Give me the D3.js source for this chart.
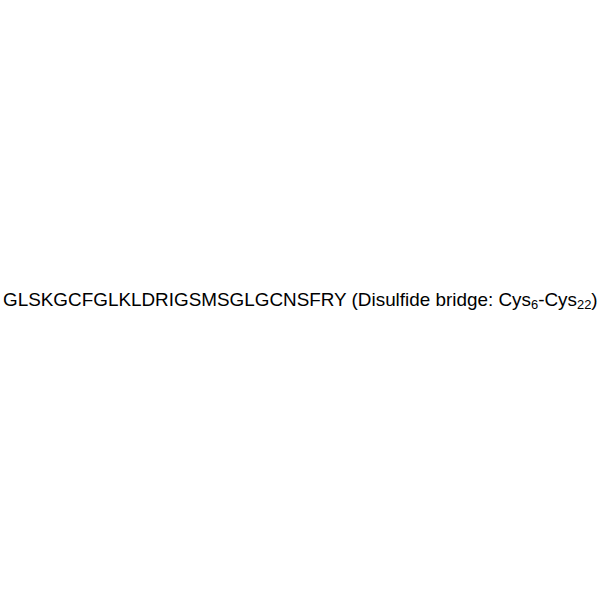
<!DOCTYPE html>
<html><head><meta charset="utf-8">
<script src="https://cdn.jsdelivr.net/npm/d3@7"></script>
<style>html,body{margin:0;padding:0;background:#fff;}</style>
</head><body>
<script>
const sequence = "GLSKGCFGLKLDRIGSMSGLGCNSFRY";
const bridgeLabel = "Disulfide bridge: ";
const residues = ["Cys", "Cys"];
const positions = ["6", "22"];

const svg = d3.select("body").append("svg").attr("width", 600).attr("height", 600);
const t = svg.append("text")
  .attr("x", 3).attr("y", 306)
  .attr("font-family", "Liberation Sans, Arial, sans-serif")
  .attr("font-size", 19).attr("fill", "#000");
t.append("tspan").text(sequence + " (" + bridgeLabel);
t.append("tspan").text(residues[0]);
t.append("tspan").attr("font-size", 13).attr("dy", 3).text(positions[0]);
t.append("tspan").attr("dy", -3).text("-" + residues[1]);
t.append("tspan").attr("font-size", 13).attr("dy", 3).text(positions[1]);
t.append("tspan").attr("dy", -3).text(")");
// fit to reference width
const target = 595;
const w = t.node().getComputedTextLength();
if (Math.abs(w - target) > 2) {
  const s = target / w;
  t.attr("font-size", 19 * s);
  t.selectAll("tspan").filter(function(){return this.getAttribute("font-size");}).attr("font-size", 13 * s);
}
</script>
</body></html>
